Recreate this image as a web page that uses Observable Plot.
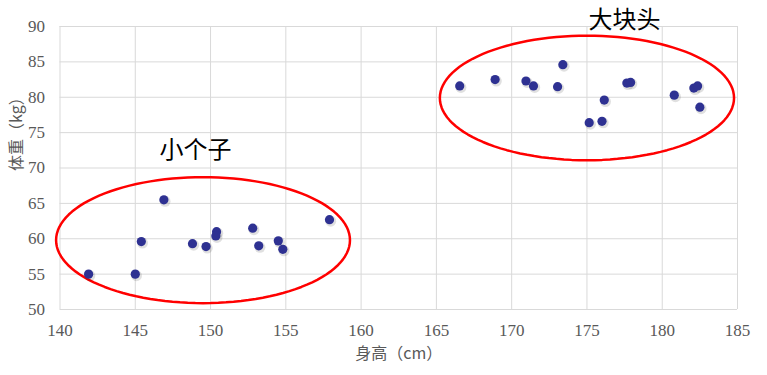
<!DOCTYPE html>
<html>
<head>
<meta charset="utf-8">
<script src="https://cdn.jsdelivr.net/npm/d3@7"></script>
<script src="https://cdn.jsdelivr.net/npm/@observablehq/plot@0.6"></script>
<style>
  html, body { margin: 0; padding: 0; background: #fff; }
  #chart svg { display: block; }
</style>
</head>
<body>
<div id="chart"></div>
<script>
// Heights (cm) and weights (kg)
const smallHeights = [141.9, 145.0, 145.4, 146.9, 148.8, 149.7, 150.4, 150.35, 152.8, 153.2, 154.5, 154.8, 157.9];
const smallWeights = [55.0, 55.0, 59.6, 65.5, 59.3, 58.9, 61.0, 60.4, 61.5, 59.0, 59.7, 58.5, 62.7];
const bigHeights = [166.55, 168.9, 170.95, 171.45, 173.4, 173.05, 175.15, 176.0, 176.15, 177.65, 177.9, 180.8, 182.1, 182.35, 182.5];
const bigWeights = [81.6, 82.5, 82.3, 81.6, 84.6, 81.5, 76.4, 76.6, 79.6, 82.0, 82.1, 80.3, 81.3, 81.6, 78.6];

const xTicks = [140, 145, 150, 155, 160, 165, 170, 175, 180, 185];
const yTicks = [50, 55, 60, 65, 70, 75, 80, 85, 90];

// Group annotations: label, label position, ellipse centre and radii (data units)
const groupLabels = ["小个子", "大块头"];
const labelX = [149.0, 177.5];
const labelY = [72.5, 90.9];
const ellipseCX = [149.5, 175.0];
const ellipseCY = [59.8, 79.9];
const ellipseRX = [9.76, 9.77];
const ellipseRY = [8.9, 8.8];

const points = [
  ...smallHeights.map((h, i) => ({h, w: smallWeights[i]})),
  ...bigHeights.map((h, i) => ({h, w: bigWeights[i]}))
];
const labels = groupLabels.map((t, i) => ({t, x: labelX[i], y: labelY[i]}));
const ellipses = [];
groupLabels.forEach((g, i) => {
  const n = 120;
  for (let k = 0; k < n; k++) {
    const a = 2 * Math.PI * k / n;
    ellipses.push({g, x: ellipseCX[i] + ellipseRX[i] * Math.cos(a), y: ellipseCY[i] + ellipseRY[i] * Math.sin(a)});
  }
});

const serif = "'Liberation Serif', 'Times New Roman', serif";
const cjk = "'Noto Sans CJK SC', sans-serif";

const chart = Plot.plot({
  width: 767,
  height: 375,
  marginLeft: 59.5,
  marginRight: 30,
  marginTop: 26,
  marginBottom: 66,
  style: {fontFamily: serif, fontSize: "16px", color: "#595959", background: "#fff", overflow: "visible"},
  x: {domain: [140, 185], ticks: xTicks, label: null},
  y: {domain: [50, 90], ticks: yTicks, label: null},
  marks: [
    Plot.gridX(xTicks, {stroke: "#d9d9d9", strokeOpacity: 1, strokeWidth: 1}),
    Plot.gridY(yTicks, {stroke: "#d9d9d9", strokeOpacity: 1, strokeWidth: 1}),
    Plot.axisX(xTicks, {tickSize: 0, tickPadding: 14, fill: "#595959", fontSize: 17, fontFamily: serif, tickFormat: d => d}),
    Plot.axisY(yTicks, {tickSize: 0, tickPadding: 15, fill: "#595959", fontSize: 17, fontFamily: serif, tickFormat: d => d}),
    Plot.line(ellipses, {x: "x", y: "y", z: "g", curve: "linear-closed", stroke: "#ff0000", strokeWidth: 2.5}),
    Plot.dot(points, {x: "h", y: "w", r: 5.5, fill: "#000", fillOpacity: 0.12, dx: 1.2, dy: 1.5, stroke: "none"}),
    Plot.dot(points, {x: "h", y: "w", r: 4.6, fill: "#2e3192", stroke: "none"}),
    Plot.text(labels, {x: "x", y: "y", text: "t", fontSize: 24, fill: "#000", fontFamily: cjk}),
    Plot.text(["身高（cm）"], {frameAnchor: "bottom", dy: 49, fontSize: 16, fill: "#595959", fontFamily: cjk}),
    Plot.text(["体重（kg）"], {frameAnchor: "left", dx: -43, dy: 3, rotate: -90, fontSize: 16, fill: "#595959", fontFamily: cjk})
  ]
});
document.getElementById("chart").appendChild(chart);
</script>
</body>
</html>
